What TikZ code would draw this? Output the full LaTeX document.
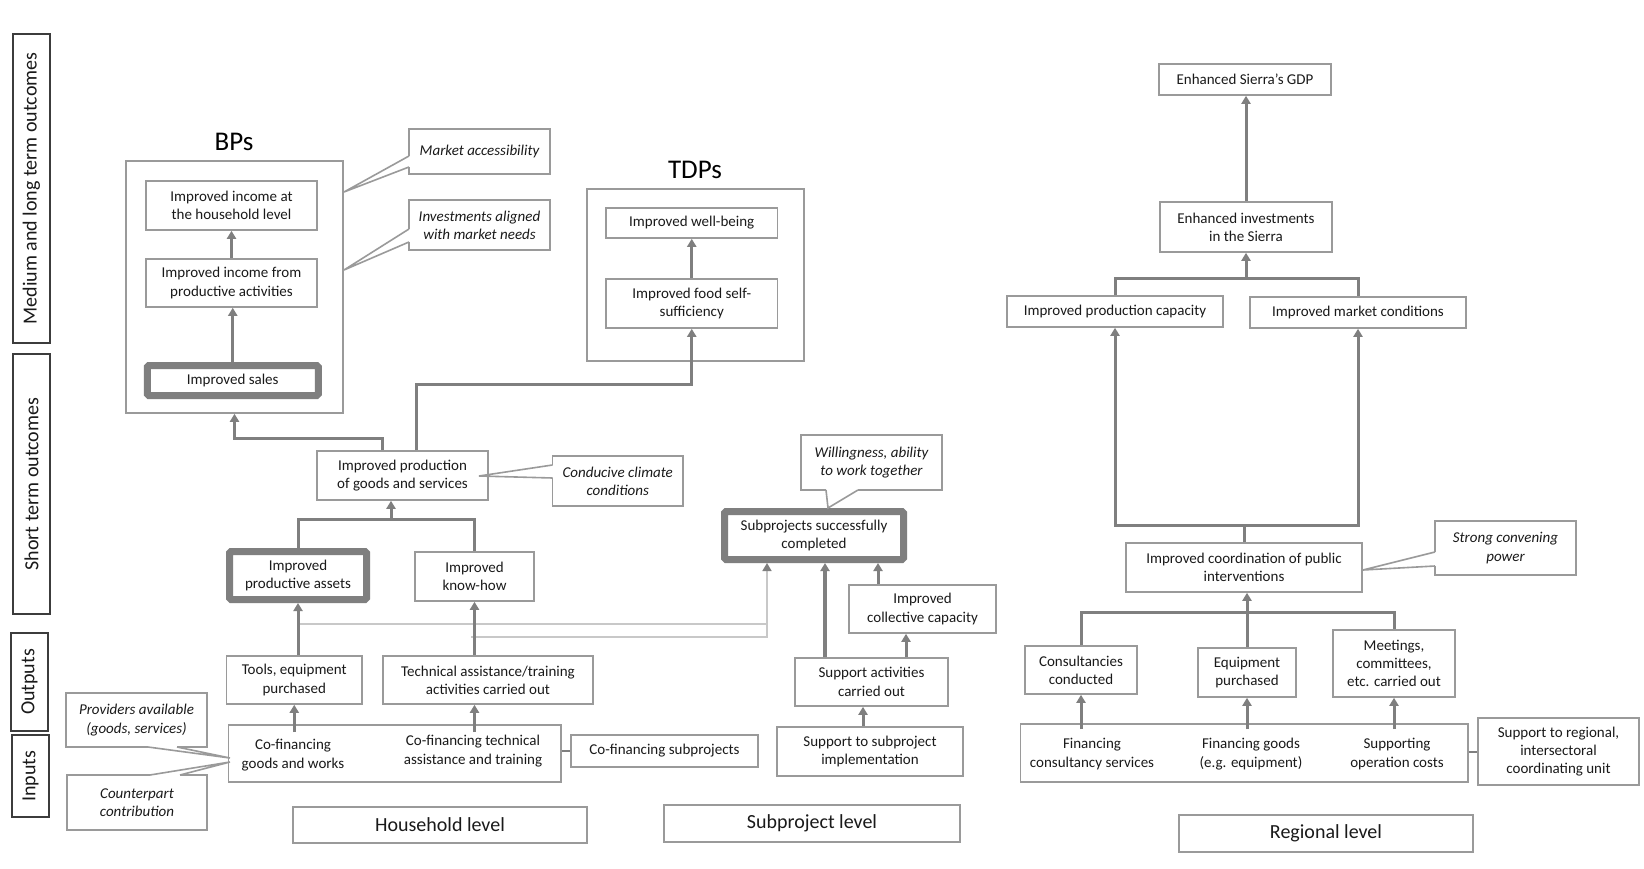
\documentclass[tikz,border=0pt]{standalone}
\usepackage{fontspec}
\setmainfont{Carlito}
\usetikzlibrary{arrows.meta,calc}
\definecolor{conncol}{HTML}{7F7F7F}
\definecolor{bordercol}{HTML}{9A9A9A}
\definecolor{labelcol}{HTML}{3C3C3C}
\definecolor{textcol}{HTML}{1A1A1A}
\definecolor{faintcol}{HTML}{C8C8C8}
\tikzset{
  box/.style={draw=bordercol, line width=1.6pt, fill=white, align=center, inner sep=0pt, text=textcol, font=\fontsize{15}{18.3}\selectfont},
  keybox/.style={box, draw=conncol, line width=7pt, rounded corners=1.5pt},
  callbox/.style={box, font=\fontsize{15}{18.3}\selectfont\itshape},
  lbl/.style={draw=labelcol, line width=2pt, inner sep=0pt, rotate=90, text=textcol, font=\fontsize{20}{24}\selectfont},
  lvl/.style={box, font=\fontsize{20}{24}\selectfont},
  ttl/.style={text=black, font=\fontsize{27}{30}\selectfont, inner sep=0pt},
  txt/.style={align=center, inner sep=0pt, text=textcol, font=\fontsize{15}{18.3}\selectfont},
  line/.style={draw=conncol, line width=3pt},
  conn/.style={line, -{Triangle[width=9pt,length=8pt]}},
  faint/.style={draw=faintcol, line width=1.5pt},
  faintconn/.style={faint, -{Triangle[width=9pt,length=8pt,color=conncol]}},
  wedge/.style={draw=bordercol, line width=1.6pt, line join=miter},
  erase/.style={draw=white, line width=2.8pt},
}
\begin{document}
\begin{tikzpicture}[x=1pt,y=-1pt]
\fill[white] (0,0) rectangle (1644,869);
\useasboundingbox (0,0) rectangle (1644,869);

% left row labels
\node[lbl, minimum width=309pt, minimum height=37pt] (lblMed) at (31.5,188.5) {Medium and long term outcomes};
\node[lbl, minimum width=260pt, minimum height=37pt] (lblShort) at (31.5,484) {Short term outcomes};
\node[lbl, minimum width=98pt, minimum height=37pt] (lblOut) at (29.5,682) {Outputs};
\node[lbl, minimum width=82pt, minimum height=37pt] (lblIn) at (30.5,776) {Inputs};

% BPs
\node[ttl] (titleBP) at (234,142) {BPs};
\node[box, minimum width=217pt, minimum height=252pt] (bpbox) at (234.5,287) {};
\node[box, minimum width=171pt, minimum height=49pt] (incHH) at (231.5,205.5) {Improved income at\\the household level};
\node[box, minimum width=171pt, minimum height=48pt] (incProd) at (231.5,283) {Improved income from\\productive activities};
\node[keybox, minimum width=171pt, minimum height=30pt] (sales) at (232.75,380.5) {Improved sales};

\node[callbox, minimum width=141pt, minimum height=45pt] (mkt) at (479.5,151.5) {Market accessibility};
\node[callbox, minimum width=141pt, minimum height=50pt] (inv) at (479.5,225) {Investments aligned\\with market needs};

% TDPs
\node[ttl] (titleTDP) at (695,170) {TDPs};
\node[box, minimum width=217pt, minimum height=172pt] (tdpbox) at (695.5,275) {};
\node[box, minimum width=171.5pt, minimum height=30pt] (well) at (691.75,223) {Improved well-being};
\node[box, minimum width=171.5pt, minimum height=49pt] (food) at (691.75,303.5) {Improved food self-\\sufficiency};

% household level
\node[box, minimum width=171pt, minimum height=49pt] (production) at (402.5,475.5) {Improved production\\of goods and services};
\node[callbox, minimum width=130.5pt, minimum height=50pt] (climate) at (617.75,481) {Conducive climate\\conditions};
\node[keybox, minimum width=137pt, minimum height=48pt] (assets) at (298,575.5) {Improved\\productive assets};
\node[box, minimum width=119pt, minimum height=49pt] (knowhow) at (474.5,576.5) {Improved\\know-how};
\node[box, minimum width=135.5pt, minimum height=48pt] (tools) at (294.25,680) {Tools, equipment\\purchased};
\node[box, minimum width=210pt, minimum height=48pt] (tech) at (488,680) {Technical assistance/training\\activities carried out};
\node[box, minimum width=332.5pt, minimum height=57pt] (inputs) at (394.75,753.5) {};
\node[txt] (cfg) at (293,755) {Co-financing\\goods and works};
\node[txt] (cft) at (473,751) {Co-financing technical\\assistance and training};
\node[box, minimum width=187pt, minimum height=32pt] (cfsub) at (664.5,751) {Co-financing subprojects};
\node[callbox, minimum width=141pt, minimum height=54pt] (providers) at (136.5,720) {Providers available\\(goods, services)};
\node[callbox, minimum width=140pt, minimum height=55pt] (counterpart) at (137,802.5) {Counterpart\\contribution};
\node[lvl, minimum width=294pt, minimum height=36pt] (hhlevel) at (440,825) {Household level};

% subproject level
\node[keybox, minimum width=179pt, minimum height=48pt] (subp) at (814,535.5) {Subprojects successfully\\completed};
\node[callbox, minimum width=141pt, minimum height=55pt] (willing) at (871.5,462.5) {Willingness, ability\\to work together};
\node[box, minimum width=147pt, minimum height=48pt] (collective) at (922.5,609) {Improved\\collective capacity};
\node[box, minimum width=153pt, minimum height=48pt] (supact) at (871.5,682) {Support activities\\carried out};
\node[box, minimum width=186pt, minimum height=49pt] (supimp) at (870,751.5) {Support to subproject\\implementation};
\node[lvl, minimum width=296pt, minimum height=37pt] (splevel) at (812,823.5) {Subproject level};

% regional level
\node[box, minimum width=172pt, minimum height=31pt] (gdp) at (1245,79.5) {Enhanced Sierra’s GDP};
\node[box, minimum width=172pt, minimum height=50pt] (invS) at (1246,227) {Enhanced investments\\in the Sierra};
\node[box, minimum width=216pt, minimum height=31pt] (prodcap) at (1115,311.5) {Improved production capacity};
\node[box, minimum width=216pt, minimum height=31pt] (market) at (1358,312.5) {Improved market conditions};
\node[box, minimum width=236pt, minimum height=49pt] (coord) at (1244,567.5) {Improved coordination of public\\interventions};
\node[callbox, minimum width=141pt, minimum height=54pt] (convening) at (1505.5,548) {Strong convening\\power};
\node[box, minimum width=112pt, minimum height=48pt] (consult) at (1081,670) {Consultancies\\conducted};
\node[box, minimum width=98pt, minimum height=49pt] (equip) at (1247,672.5) {Equipment\\purchased};
\node[box, minimum width=122pt, minimum height=67pt] (meet) at (1394,663.5) {Meetings,\\committees,\\etc. carried out};
\node[box, minimum width=447.5pt, minimum height=58pt] (finbox) at (1244.25,753) {};
\node[txt] (fcs) at (1092,754) {Financing\\consultancy services};
\node[txt] (fge) at (1251,754) {Financing goods\\(e.g. equipment)};
\node[txt] (soc) at (1397,754) {Supporting\\operation costs};
\node[box, minimum width=161pt, minimum height=67pt] (supreg) at (1558.5,751.5) {Support to regional,\\intersectoral\\coordinating unit};
\node[lvl, minimum width=294.5pt, minimum height=37pt] (rglevel) at (1326,833.5) {Regional level};

% callout wedges
\draw[erase] (409,156) -- (409,167);
\draw[wedge] (409,156) -- (344,192) -- (409,167);
\draw[erase] (409,229) -- (409,242);
\draw[wedge] (409,229) -- (344,270) -- (409,242);
\draw[erase] (552.5,465) -- (552.5,478);
\draw[wedge] (552.5,465) -- (479,476) -- (552.5,478);
\draw[erase] (1435,552) -- (1435,566);
\draw[wedge] (1435,552) -- (1363,570) -- (1435,566);
\draw[erase] (826,490) -- (858,490);
\draw[wedge] (826,490) -- (828,508) -- (858,490);
\draw[erase] (148,747) -- (177,747);
\draw[wedge] (148,747) -- (230,758) -- (177,747);
\draw[erase] (150,775) -- (180,775);
\draw[wedge] (150,775) -- (230,762) -- (180,775);

% faint links to subprojects
\coordinate (th1) at (298,624);
\coordinate (thu) at (767,624);
\coordinate (th2) at (471,637);
\coordinate (thc) at (767,637);
\draw[faint] (th1) -- (thu);
\draw[faintconn] (th2) -- (thc) -- (thc |- subp.south);

% BPs internal
\draw[conn] (sales.north) -- (sales.north |- incProd.south);
\draw[conn] (incProd.north) -- (incProd.north |- incHH.south);
\draw[conn] (food.north) -- (food.north |- well.south);

% production to BPs / TDPs
\coordinate (p1) at ([xshift=-20.5pt]production.north);
\coordinate (p1k) at (382,438);
\draw[conn] (p1) -- (p1k) -| (bpbox.south);
\coordinate (p2) at ([xshift=13.5pt]production.north);
\coordinate (p2k) at (416,384);
\draw[conn] (p2) -- (p2k) -| (food.south);

% assets / know-how to production
\coordinate (j1) at (391,519);
\draw[line] (assets.north) |- (j1) -| (knowhow.north);
\draw[conn] (j1) -- (j1 |- production.south);

% outputs to outcomes
\draw[conn] (assets.south |- tools.north) -- (assets.south);
\draw[conn] (knowhow.south |- tech.north) -- (knowhow.south);

% inputs to outputs
\coordinate (intop) at ([yshift=-8pt]inputs.north);
\draw[conn] (tools.south |- intop) -- (tools.south);
\draw[conn] (knowhow.south |- intop) -- (knowhow.south |- tech.south);
\draw[line, line width=2pt] (inputs.east |- cfsub.west) -- (cfsub.west);

% subproject arrows
\coordinate (s1) at ([xshift=-7pt]supimp.north);
\draw[conn] (s1) -- (s1 |- supact.south);
\coordinate (s2) at ([xshift=34.5pt]supact.north);
\draw[conn] (s2) -- (s2 |- collective.south);
\coordinate (s3) at ([xshift=-46.5pt]supact.north);
\draw[conn, line width=3.5pt] (s3) -- (s3 |- subp.south);
\coordinate (s4) at ([xshift=-44.5pt]collective.north);
\draw[conn] (s4) -- (s4 |- subp.south);

% regional arrows
\draw[conn] (invS.north) -- (invS.north |- gdp.south);
\coordinate (t1) at (1246,278);
\draw[line] (prodcap.north) |- (t1) -| (market.north);
\draw[conn] (t1) -- (invS.south);
\coordinate (u1) at (1244,525);
\draw[line] (coord.north) -- (u1);
\draw[conn] (u1) -| (prodcap.south);
\draw[conn] (u1) -| (market.south);
\coordinate (b2) at (1244,612);
\draw[line] (consult.north) |- (b2) -| (meet.north);
\draw[conn] (equip.north) -- (equip.north |- coord.south);
\coordinate (fintop) at ([yshift=-6pt]finbox.north);
\draw[conn] (consult.south |- fintop) -- (consult.south);
\draw[conn] (equip.south |- fintop) -- (equip.south);
\draw[conn] (meet.south |- fintop) -- (meet.south);
\draw[line, line width=2pt] (finbox.east |- supreg.west) -- (supreg.west);
\end{tikzpicture}
\end{document}
